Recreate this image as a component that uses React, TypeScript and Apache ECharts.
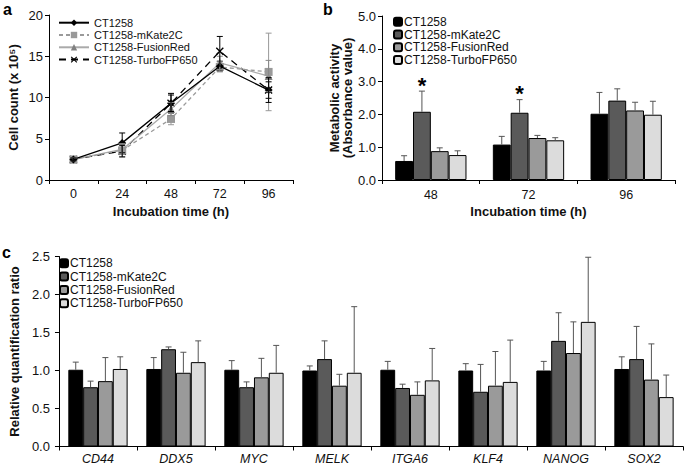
import React, { useEffect, useRef } from "react";
import * as echarts from "echarts";

// ---------- Panel a: cell count ----------
const timeCats = ["0", "24", "48", "72", "96"];
const groupNames = ["CT1258", "CT1258-mKate2C", "CT1258-FusionRed", "CT1258-TurboFP650"];

const cellCT1258 = [2.5, 4.5, 9.3, 13.8, 10.9];
const cellCT1258Err = [0.15, 1.2, 1.2, 0.6, 1.0];
const cellMKate = [2.5, 3.6, 7.4, 13.7, 13.1];
const cellMKateErr = [0.15, 0.8, 0.7, 0.6, 4.7];
const cellFusion = [2.5, 3.7, 8.6, 14.2, 12.6];
const cellFusionErr = [0.15, 0.6, 0.8, 0.8, 1.9];
const cellTurbo = [2.5, 3.5, 9.3, 15.6, 10.9];
const cellTurboErr = [0.15, 0.7, 1.0, 1.8, 1.5];
const cellTicks = { min: 0, max: 20, interval: 5 };

// ---------- Panel b: metabolic activity ----------
const metabCats = ["48", "72", "96"];
const metabCT1258 = [0.58, 1.08, 2.02];
const metabCT1258Err = [0.16, 0.25, 0.65];
const metabMKate = [2.08, 2.05, 2.42];
const metabMKateErr = [0.63, 0.4, 0.36];
const metabFusion = [0.88, 1.28, 2.12];
const metabFusionErr = [0.1, 0.08, 0.25];
const metabTurbo = [0.76, 1.21, 1.99];
const metabTurboErr = [0.13, 0.08, 0.41];
// significance stars: [category index, group index]
const metabStars = [
  [0, 1],
  [1, 1],
];
const metabTicks = { min: 0, max: 5, interval: 1 };

// ---------- Panel c: relative quantification ----------
const geneCats = ["CD44", "DDX5", "MYC", "MELK", "ITGA6", "KLF4", "NANOG", "SOX2"];
const rqCT1258 = [1.01, 1.02, 1.01, 1.0, 1.01, 1.0, 1.0, 1.02];
const rqCT1258Err = [0.1, 0.15, 0.12, 0.06, 0.11, 0.09, 0.12, 0.16];
const rqMKate = [0.78, 1.28, 0.78, 1.15, 0.77, 0.72, 1.39, 1.15];
const rqMKateErr = [0.08, 0.03, 0.07, 0.24, 0.05, 0.36, 0.37, 0.43];
const rqFusion = [0.86, 0.97, 0.91, 0.8, 0.68, 0.8, 1.23, 0.88];
const rqFusionErr = [0.31, 0.27, 0.25, 0.15, 0.17, 0.45, 0.41, 0.47];
const rqTurbo = [1.02, 1.11, 0.97, 0.97, 0.87, 0.85, 1.64, 0.65];
const rqTurboErr = [0.16, 0.28, 0.36, 0.87, 0.42, 0.55, 0.85, 0.29];
const rqTicks = { min: 0, max: 2.5, interval: 0.5 };

const FONT = "'Liberation Sans', Arial, sans-serif";
const barColors = ["#000000", "#5a5a5a", "#9a9a9a", "#dcdcdc"];
const B_GAP = 0.27;
const C_GAP = 0.24;

const X_MARK =
  "path://M0,1.2 L1.2,0 L5,3.8 L8.8,0 L10,1.2 L6.2,5 L10,8.8 L8.8,10 L5,6.2 L1.2,10 L0,8.8 L3.8,5 Z";

export default function App() {
  const ref = useRef<HTMLDivElement>(null);

  useEffect(() => {
    if (!ref.current) return;
    const chart = echarts.init(ref.current, null, { renderer: "svg" });

    const lineDefs = [
      { vals: cellCT1258, errs: cellCT1258Err, color: "#000", sym: "diamond", size: 8, lineType: "solid" as any, lineColor: "#000", symColor: "#000" },
      { vals: cellMKate, errs: cellMKateErr, color: "#999", sym: "rect", size: 8, lineType: [4, 3] as any, lineColor: "#9a9a9a", symColor: "#999" },
      { vals: cellFusion, errs: cellFusionErr, color: "#888", sym: "triangle", size: 8, lineType: "solid" as any, lineColor: "#aaaaaa", symColor: "#808080" },
      { vals: cellTurbo, errs: cellTurboErr, color: "#000", sym: X_MARK, size: 8, lineType: [7, 5] as any, lineColor: "#000", symColor: "#000" },
    ];

    const lineSeries: any[] = lineDefs.map((d, i) => ({
      name: "a|" + groupNames[i],
      type: "line",
      xAxisIndex: 0,
      yAxisIndex: 0,
      data: d.vals,
      symbol: d.sym,
      symbolSize: d.size,
      showSymbol: true,
      lineStyle: { color: d.lineColor, width: 1.3, type: d.lineType },
      itemStyle: { color: d.symColor },
      z: 5 - i,
    }));

    const lineErrSeries: any[] = lineDefs.map((d) => ({
      type: "custom",
      xAxisIndex: 0,
      yAxisIndex: 0,
      silent: true,
      z: 6,
      encode: { x: 0, y: 1 },
      data: d.vals.map((v, k) => [k, v, d.errs[k]]),
      renderItem: (params: any, api: any) => {
        const x = api.value(0);
        const v = api.value(1);
        const e = api.value(2);
        const top = api.coord([x, v + e]);
        const bot = api.coord([x, v - e]);
        const st = { stroke: d.color, lineWidth: 1 };
        return {
          type: "group",
          children: [
            { type: "line", shape: { x1: top[0], y1: top[1], x2: bot[0], y2: bot[1] }, style: st },
            { type: "line", shape: { x1: top[0] - 3, y1: top[1], x2: top[0] + 3, y2: top[1] }, style: st },
            { type: "line", shape: { x1: bot[0] - 3, y1: bot[1], x2: bot[0] + 3, y2: bot[1] }, style: st },
          ],
        };
      },
    }));

    const makeBars = (prefix: string, axis: number, arrays: number[][], gap: number) =>
      arrays.map((vals, i) => ({
        name: prefix + "|" + groupNames[i],
        type: "bar",
        xAxisIndex: axis,
        yAxisIndex: axis,
        data: vals,
        barGap: "0%",
        barCategoryGap: Math.round(gap * 100) + "%",
        itemStyle: { color: barColors[i], borderColor: "#000", borderWidth: 1 },
        z: 2,
      }));

    const makeBarErr = (
      axis: number,
      arrays: number[][],
      errs: number[][],
      gap: number,
      stars: number[][]
    ) => {
      const data: number[][] = [];
      arrays.forEach((vals, si) =>
        vals.forEach((v, ci) => {
          const star = stars.some((s) => s[0] === ci && s[1] === si) ? 1 : 0;
          data.push([ci, si, v, errs[si][ci], star]);
        })
      );
      const n = arrays.length;
      return {
        type: "custom",
        xAxisIndex: axis,
        yAxisIndex: axis,
        silent: true,
        z: 4,
        encode: { x: 0, y: 2 },
        data,
        renderItem: (params: any, api: any) => {
          const ci = api.value(0);
          const si = api.value(1);
          const v = api.value(2);
          const e = api.value(3);
          const star = api.value(4);
          const base = api.coord([ci, v]);
          const top = api.coord([ci, v + e]);
          const band = api.size([1, 0])[0];
          const bw = (band * (1 - gap)) / n;
          const x = base[0] + (si - (n - 1) / 2) * bw;
          const st = { stroke: "#555", lineWidth: 1 };
          const children: any[] = [
            { type: "line", shape: { x1: x, y1: base[1], x2: x, y2: top[1] }, style: st },
            { type: "line", shape: { x1: x - 3, y1: top[1], x2: x + 3, y2: top[1] }, style: st },
          ];
          if (star) {
            children.push({
              type: "text",
              x: x,
              y: top[1] - 6,
              style: {
                text: "*",
                font: "bold 22px " + FONT,
                fill: "#000",
                align: "center",
                verticalAlign: "middle",
              },
            });
          }
          return { type: "group", children };
        },
      };
    };

    const xAxisBase = (grid: number, cats: string[], italic = false, margin = 7) => ({
      type: "category",
      gridIndex: grid,
      data: cats,
      boundaryGap: true,
      axisLine: { show: true, lineStyle: { color: "#000", width: 1 } },
      axisTick: { show: true, length: 4, alignWithLabel: false, lineStyle: { color: "#000" } },
      axisLabel: {
        color: "#111",
        fontSize: 12.5,
        fontFamily: FONT,
        fontStyle: italic ? "italic" : "normal",
        margin,
        interval: 0,
      },
    });

    const yAxisBase = (grid: number, t: { min: number; max: number; interval: number }, decimals: number, margin: number) => ({
      type: "value",
      gridIndex: grid,
      min: t.min,
      max: t.max,
      interval: t.interval,
      splitLine: { show: false },
      axisLine: { show: true, lineStyle: { color: "#000", width: 1 } },
      axisTick: { show: true, length: 4, lineStyle: { color: "#000" } },
      axisLabel: {
        color: "#111",
        fontSize: 13,
        fontFamily: FONT,
        margin,
        formatter: (v: number) => v.toFixed(decimals),
      },
    });

    const nameStyle = { fontSize: 13, fontWeight: "bold", color: "#111", fontFamily: FONT };

    const legendBase = (prefix: string, left: number, top: number, gap: number, barLegend: boolean, fs: number) => ({
      orient: "vertical",
      left,
      top,
      padding: 0,
      itemGap: gap,
      itemWidth: barLegend ? 8 : 30,
      itemHeight: 8,
      selectedMode: false,
      data: groupNames.map((g) => prefix + "|" + g),
      formatter: (n: string) => n.split("|")[1],
      textStyle: { fontSize: fs, color: "#111", fontFamily: FONT, lineHeight: fs, padding: barLegend ? [0, 0, 0, -3] : 0 },
    });

    const option: any = {
      animation: false,
      backgroundColor: "#fff",
      textStyle: { fontFamily: FONT },
      grid: [
        { left: 49, top: 15, width: 244, height: 165 },
        { left: 382, top: 16, width: 293, height: 164 },
        { left: 49, top: 256.5, width: 634, height: 190 },
      ],
      xAxis: [
        {
          ...xAxisBase(0, timeCats, false, 7),
          name: "Incubation time (h)",
          nameLocation: "middle",
          nameGap: 25,
          nameTextStyle: nameStyle,
        },
        {
          ...xAxisBase(1, metabCats, false, 8),
          name: "Incubation time (h)",
          nameLocation: "middle",
          nameGap: 25,
          nameTextStyle: nameStyle,
        },
        { ...xAxisBase(2, geneCats, true, 6) },
      ],
      yAxis: [
        {
          ...yAxisBase(0, cellTicks, 0, 6),
          name: "Cell count (x 10\u2075)",
          nameLocation: "middle",
          nameGap: 29,
          nameTextStyle: nameStyle,
        },
        {
          ...yAxisBase(1, metabTicks, 1, 6),
          name: "Metabolic activity\n(Absorbance value)",
          nameLocation: "middle",
          nameGap: 28,
          nameTextStyle: { ...nameStyle, lineHeight: 13 },
        },
        {
          ...yAxisBase(2, rqTicks, 1, 9),
          name: "Relative quantification ratio",
          nameLocation: "middle",
          nameGap: 32,
          nameTextStyle: nameStyle,
        },
      ],
      legend: [
        legendBase("a", 58, 17.2, 1.3, false, 11),
        legendBase("b", 393, 15.7, 0.8, true, 12),
        legendBase("c", 59, 257.3, 1.3, true, 12),
      ],
      series: [
        ...lineSeries,
        ...lineErrSeries,
        ...makeBars("b", 1, [metabCT1258, metabMKate, metabFusion, metabTurbo], B_GAP),
        makeBarErr(
          1,
          [metabCT1258, metabMKate, metabFusion, metabTurbo],
          [metabCT1258Err, metabMKateErr, metabFusionErr, metabTurboErr],
          B_GAP,
          metabStars
        ),
        ...makeBars("c", 2, [rqCT1258, rqMKate, rqFusion, rqTurbo], C_GAP),
        makeBarErr(
          2,
          [rqCT1258, rqMKate, rqFusion, rqTurbo],
          [rqCT1258Err, rqMKateErr, rqFusionErr, rqTurboErr],
          C_GAP,
          []
        ),
      ],
      graphic: [
        { type: "text", left: 3, top: 1, style: { text: "a", font: "bold 16px " + FONT, fill: "#000" } },
        { type: "text", left: 323, top: 1, style: { text: "b", font: "bold 16px " + FONT, fill: "#000" } },
        { type: "text", left: 2, top: 244, style: { text: "c", font: "bold 16px " + FONT, fill: "#000" } },
      ],
    };

    chart.setOption(option);
    return () => chart.dispose();
  }, []);

  return (
    <div
      ref={ref}
      style={{ position: "fixed", left: 0, top: 0, width: 685, height: 469, background: "#fff" }}
    />
  );
}
